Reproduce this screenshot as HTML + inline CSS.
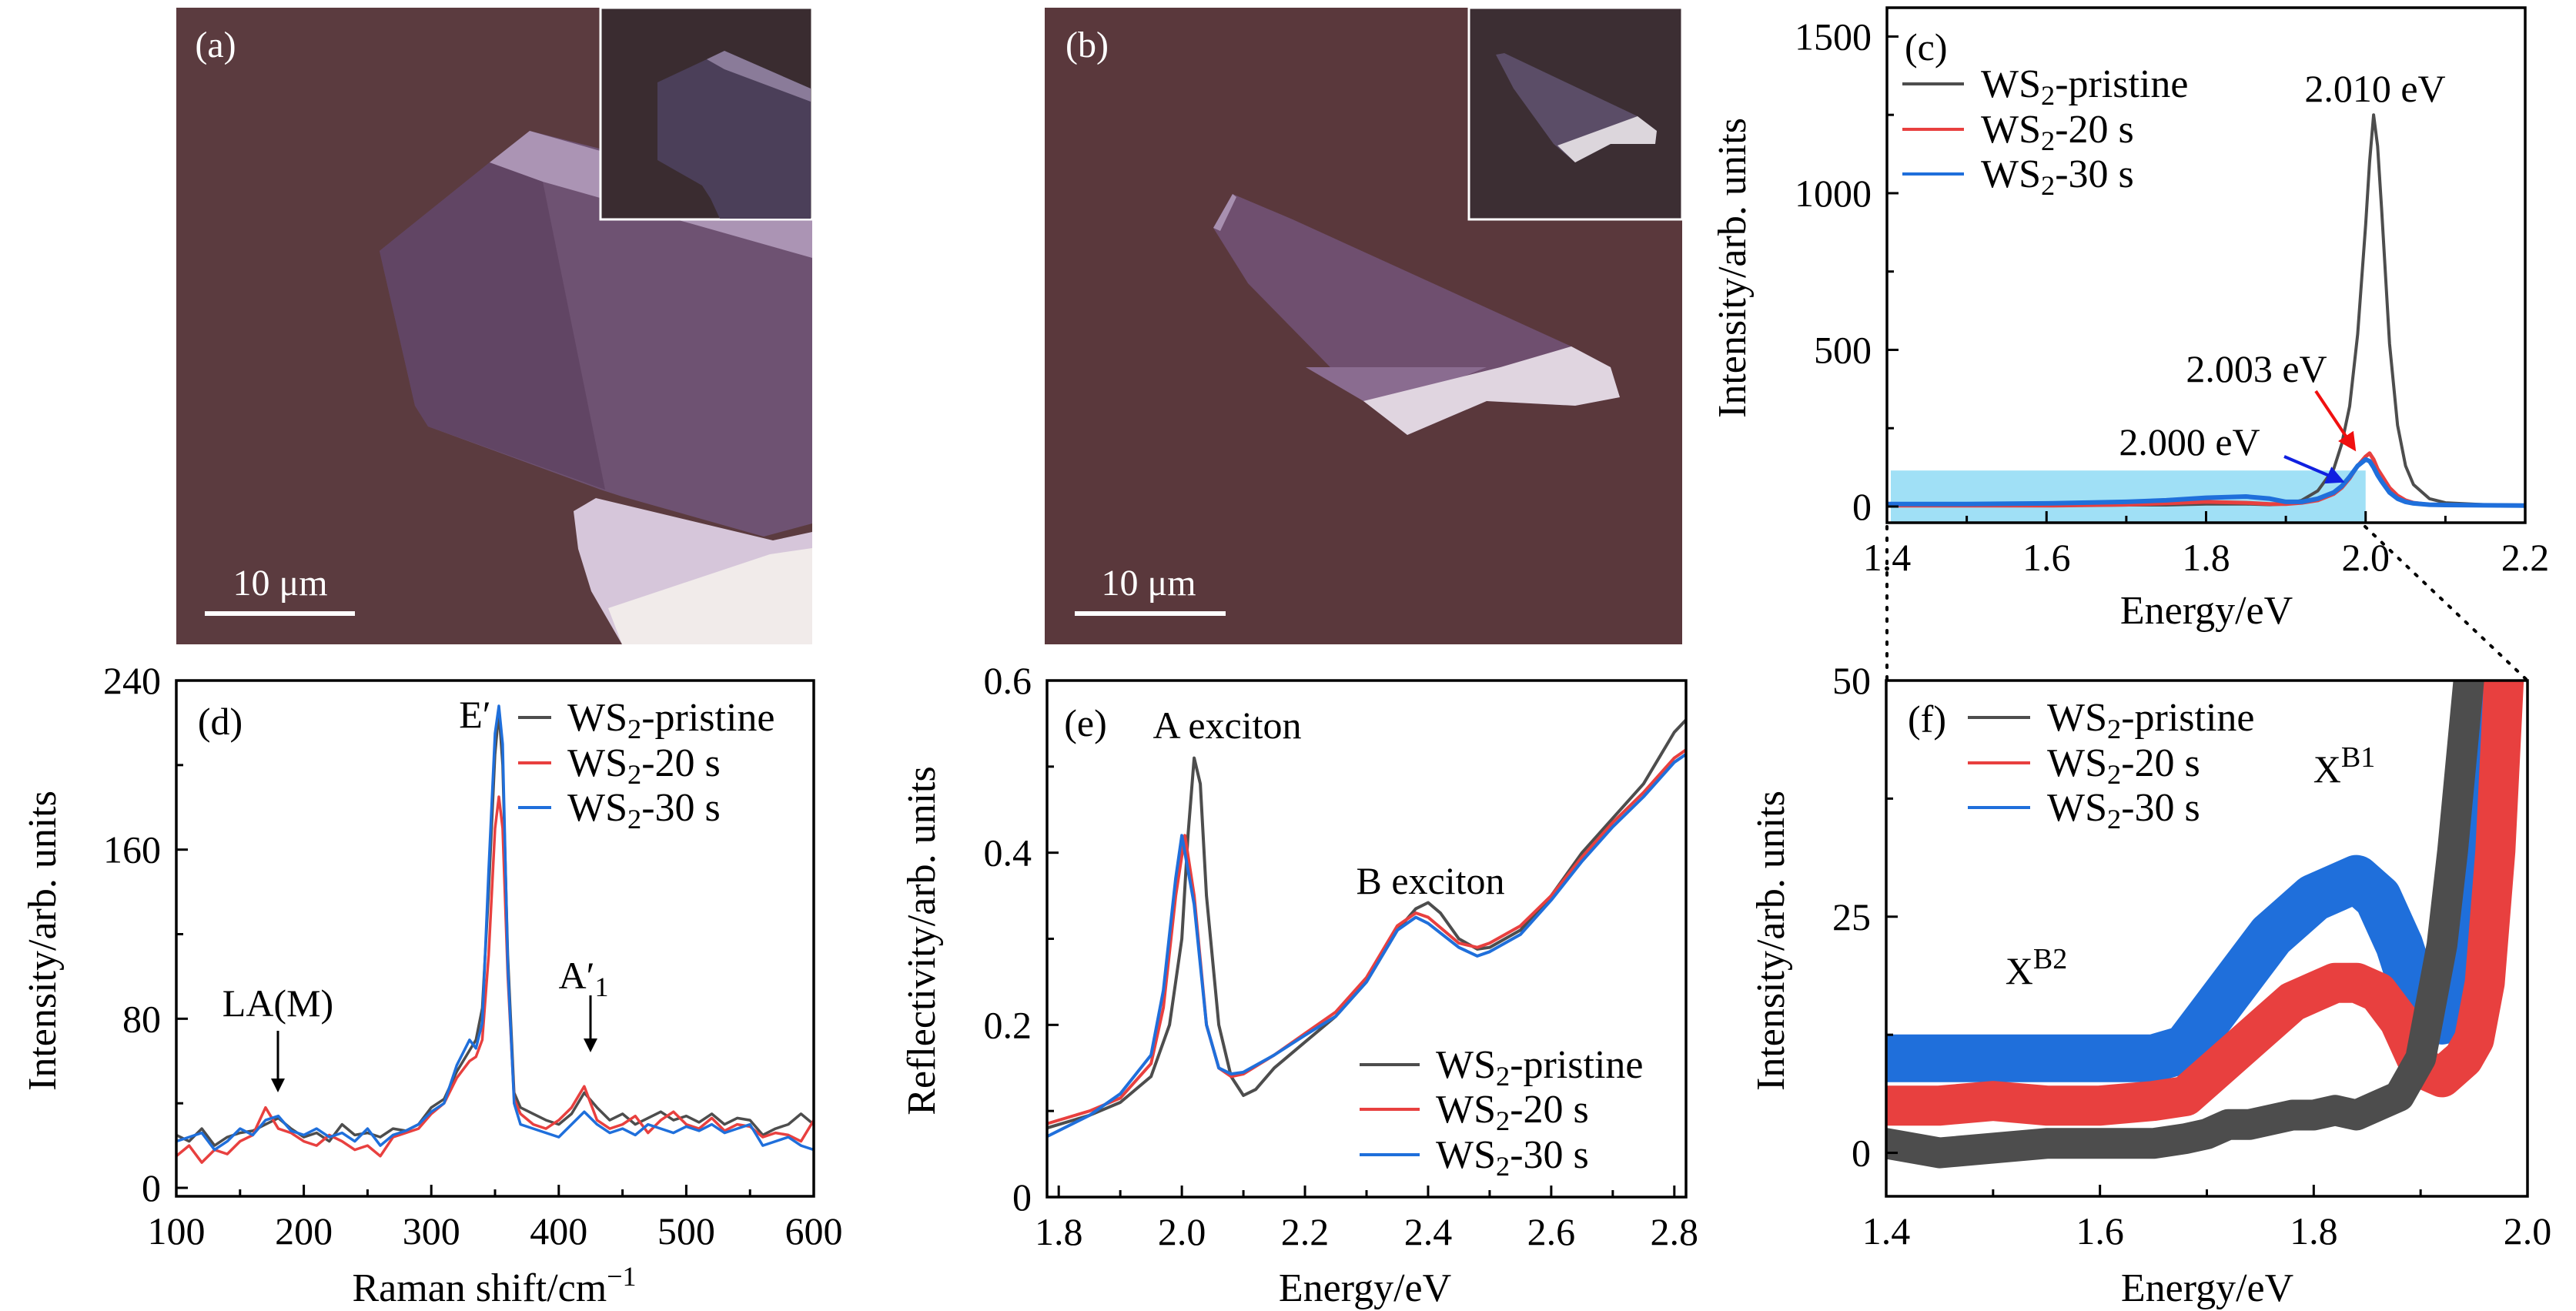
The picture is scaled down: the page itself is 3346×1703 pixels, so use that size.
<!DOCTYPE html>
<html><head><meta charset="utf-8"><style>
html,body{margin:0;padding:0;background:#fff;}
svg{display:block;font-family:"Liberation Serif",serif;}
</style></head><body>
<svg id="fig" xmlns="http://www.w3.org/2000/svg" width="3346" height="1703" viewBox="0 0 3346 1703">
<defs>
<clipPath id="clipC"><rect x="2451" y="10" width="829" height="669"/></clipPath>
<clipPath id="clipD"><rect x="229" y="884" width="828" height="670"/></clipPath>
<clipPath id="clipE"><rect x="1360" y="884" width="830" height="670"/></clipPath>
<clipPath id="clipF"><rect x="2450" y="884" width="833" height="670"/></clipPath>
<marker id="arrK" markerWidth="6" markerHeight="6" refX="5" refY="3" orient="auto" markerUnits="strokeWidth"><path d="M0,0 L6,3 L0,6 Z" fill="#000"/></marker>
<marker id="arrR" markerWidth="6" markerHeight="6" refX="5" refY="3" orient="auto" markerUnits="strokeWidth"><path d="M0,0 L6,3 L0,6 Z" fill="#f01010"/></marker>
<marker id="arrB" markerWidth="6" markerHeight="6" refX="5" refY="3" orient="auto" markerUnits="strokeWidth"><path d="M0,0 L6,3 L0,6 Z" fill="#1020e0"/></marker>
</defs>

<g>
<rect x="229" y="10" width="826" height="827" fill="#5b3b3f"/>
<polygon points="493,326 636,211 688,170 1055,263 1055,680 992,697 808,645 780,636 556,554 539,527" fill="#6e5272"/>
<polygon points="493,326 636,211 705,236 786,636 556,554 539,527" fill="#614564"/>
<polygon points="636,211 688,170 1055,274 1055,335 705,236" fill="#ab94b4"/>
<polygon points="745,664 774,647 1004,702 1055,691 1055,837 808,837 768,768 751,713" fill="#d6c6da"/>
<polygon points="790,790 1000,720 1055,712 1055,837 808,837" fill="#f1ebea"/>
<rect x="780" y="10" width="275" height="275" fill="#3a2c30" stroke="#fff" stroke-width="3"/>
<polygon points="854,107 918,77 941,66 1053,115 1053,284 935,284 923,258 912,241 854,208" fill="#4b3f59"/>
<polygon points="918,77 941,66 1053,115 1053,132 941,90" fill="#8a7b99"/>
<text x="280" y="74" font-size="48" fill="#fff" text-anchor="middle">(a)</text>
<text x="364" y="773" font-size="48" fill="#fff" text-anchor="middle">10 μm</text>
<line x1="266" y1="797" x2="461" y2="797" stroke="#fff" stroke-width="6"/>
</g>

<g>
<rect x="1357" y="10" width="828" height="827" fill="#5a383c"/>
<polygon points="1576,296 1601,252 1679,285 2041,450 2092,477 2104,516 2046,527 1931,521 1828,565 1771,521 1621,368" fill="#6f4f6f"/>
<polygon points="1576,296 1601,252 1606,256 1585,300" fill="#a890b0"/>
<polygon points="1696,477 1931,477 1834,516 1771,521" fill="#8a6c90"/>
<polygon points="1771,521 1949,477 2041,450 2092,477 2104,516 2046,527 1931,521 1828,565" fill="#e0d5e0"/>
<rect x="1908" y="10" width="277" height="275" fill="#3c2e33" stroke="#fff" stroke-width="3"/>
<polygon points="1943,71 1954,69 2127,151 2152,170 2150,187 2092,187 2046,211 2018,187 1966,115" fill="#5b4d67"/>
<polygon points="2023,189 2127,151 2152,170 2150,187 2092,187 2046,211" fill="#dcd6dc"/>
<text x="1412" y="74" font-size="48" fill="#fff" text-anchor="middle">(b)</text>
<text x="1492" y="773" font-size="48" fill="#fff" text-anchor="middle">10 μm</text>
<line x1="1396" y1="797" x2="1592" y2="797" stroke="#fff" stroke-width="6"/>
</g>

<g id="charts"></g>
</svg>
<script>
const cEnergy = [1.40,1.50,1.60,1.70,1.75,1.80,1.85,1.88,1.90,1.92,1.94,1.96,1.97,1.98,1.99,2.00,2.005,2.01,2.015,2.02,2.03,2.04,2.05,2.06,2.08,2.10,2.15,2.20];
const cPristine = [5,4,3,5,5,8,8,6,8,20,50,120,200,320,550,900,1100,1250,1150,950,520,260,130,70,25,12,6,5];
const c20s = [3,3,3,6,10,15,12,8,8,12,20,40,60,90,130,160,170,150,120,100,60,35,20,12,6,5,4,3];
const c30s = [8,8,10,15,20,28,32,25,15,15,25,45,65,95,130,150,145,125,100,80,45,25,15,10,6,5,4,3];
const cXTicks = [1.4,1.6,1.8,2.0,2.2];
const cXTickLabels = ["1.4","1.6","1.8","2.0","2.2"];
const cYTicks = [0,500,1000,1500];
const cYTickLabels = ["0","500","1000","1500"];
const cHighlight = [1.4,2.0,115];

const dShift = [100,110,120,130,140,150,160,170,180,190,200,210,220,230,240,250,260,270,280,290,300,310,320,330,335,340,345,350,353,356,360,365,370,380,390,400,410,420,430,440,450,460,470,480,490,500,510,520,530,540,550,560,570,580,590,600];
const dPristine = [25,22,28,20,24,26,27,30,33,28,24,26,22,30,25,26,24,28,27,30,38,42,55,65,70,85,140,205,225,200,110,45,38,35,32,30,35,45,38,32,35,30,33,36,32,34,31,35,30,33,32,25,28,30,35,30];
const d20s = [15,20,12,18,16,22,25,38,28,26,22,20,25,22,18,20,15,24,26,28,35,40,52,60,62,70,110,170,185,170,100,42,35,30,28,32,38,48,32,28,30,34,26,32,36,30,28,33,27,30,29,24,26,25,22,32];
const d30s = [22,24,26,18,22,28,25,32,34,27,25,28,24,26,22,28,20,25,27,30,36,40,58,70,66,78,150,215,228,210,105,40,30,28,26,24,30,36,30,26,28,25,30,28,26,29,27,30,26,28,30,20,22,24,20,18];
const dXTicks = [100,200,300,400,500,600];
const dXTickLabels = ["100","200","300","400","500","600"];
const dYTicks = [0,80,160,240];
const dYTickLabels = ["0","80","160","240"];

const ePristineX = [1.78,1.85,1.90,1.95,1.98,2.00,2.01,2.02,2.03,2.04,2.06,2.08,2.10,2.12,2.15,2.20,2.25,2.30,2.35,2.38,2.40,2.42,2.45,2.48,2.50,2.55,2.60,2.65,2.70,2.75,2.80,2.82];
const ePristine = [0.08,0.095,0.11,0.14,0.2,0.3,0.42,0.51,0.48,0.35,0.2,0.14,0.118,0.125,0.15,0.18,0.21,0.25,0.31,0.335,0.342,0.33,0.30,0.288,0.29,0.31,0.35,0.40,0.44,0.48,0.54,0.555];
const e20sX = [1.78,1.85,1.90,1.95,1.97,1.99,2.005,2.02,2.04,2.06,2.08,2.10,2.15,2.20,2.25,2.30,2.35,2.38,2.40,2.45,2.48,2.50,2.55,2.60,2.65,2.70,2.75,2.80,2.82];
const e20s = [0.085,0.1,0.115,0.155,0.22,0.35,0.42,0.35,0.2,0.15,0.14,0.143,0.165,0.19,0.215,0.255,0.315,0.33,0.325,0.295,0.29,0.295,0.315,0.35,0.395,0.435,0.47,0.51,0.52];
const e30sX = [1.78,1.85,1.90,1.95,1.97,1.99,2.00,2.02,2.04,2.06,2.08,2.10,2.15,2.20,2.25,2.30,2.35,2.38,2.40,2.45,2.48,2.50,2.55,2.60,2.65,2.70,2.75,2.80,2.82];
const e30s = [0.07,0.095,0.12,0.165,0.24,0.37,0.42,0.34,0.2,0.15,0.143,0.145,0.165,0.188,0.21,0.25,0.31,0.325,0.318,0.29,0.28,0.285,0.305,0.345,0.39,0.43,0.465,0.505,0.515];
const eXTicks = [1.8,2.0,2.2,2.4,2.6,2.8];
const eXTickLabels = ["1.8","2.0","2.2","2.4","2.6","2.8"];
const eYTicks = [0,0.2,0.4,0.6];
const eYTickLabels = ["0","0.2","0.4","0.6"];

const fEnergy = [1.40,1.45,1.50,1.55,1.60,1.65,1.68,1.70,1.72,1.74,1.76,1.78,1.80,1.82,1.84,1.86,1.88,1.90,1.92,1.93,1.94,1.95,1.96,1.97,1.98];
const fPristine = [1,0,0.5,1,1,1,1.5,2,3,3,3.5,4,4,4.5,4,5,6,10,22,32,44,56,90,110,130];
const f20s = [5,5,5.5,5,5,5.5,6,8,10,12,14,16,17,18,18,17,14,9,8,9,10,12,18,32,55];
const f30s = [10,10,10,10,10,10,11,14,17,20,23,25,27,28,29,27,22,15,14,15,18,22,32,45,60];
const fXTicks = [1.4,1.6,1.8,2.0];
const fXTickLabels = ["1.4","1.6","1.8","2.0"];
const fYTicks = [0,25,50];
const fYTickLabels = ["0","25","50"];

const NS = "http://www.w3.org/2000/svg";
const root = document.getElementById('charts');
const GREY = "#4d4d4d", RED = "#e8403f", BLUE = "#1f6fdb";

function mk(tag, attrs, parent) {
  const el = document.createElementNS(NS, tag);
  for (const k in attrs) el.setAttribute(k, attrs[k]);
  (parent || root).appendChild(el);
  return el;
}
function scale(d0, d1, p0, p1) { return v => p0 + (v - d0) / (d1 - d0) * (p1 - p0); }

function axes(g, P) {
  const fr = mk('rect', {x:P.px0, y:P.py1, width:P.px1-P.px0, height:P.py0-P.py1, fill:'none', stroke:'#000', 'stroke-width':3.5}, g);
  
  
  for (let v = P.xMinorStart; v <= P.xd1 + 1e-9; v += P.xMinor) {
    const x = P.sx(v);
    if (x < P.px0 + 1 || x > P.px1 - 1) continue;
    const isMajor = Math.abs(((v - P.xTicks[0]) / P.xMajor) - Math.round((v - P.xTicks[0]) / P.xMajor)) < 1e-6;
    const t = mk('line', {x1:x, x2:x, y1:P.py0, y2:P.py0 - (isMajor ? 15 : 9), stroke:'#000', 'stroke-width':3}, g);
    
    
  }
  for (let v = P.yMinorStart; v <= P.yd1 + 1e-9; v += P.yMinor) {
    const y = P.sy(v);
    if (y > P.py0 - 1 || y < P.py1 + 1) continue;
    const isMajor = Math.abs(((v - P.yTicks[0]) / P.yMajor) - Math.round((v - P.yTicks[0]) / P.yMajor)) < 1e-6;
    const t = mk('line', {x1:P.px0, x2:P.px0 + (isMajor ? 15 : 9), y1:y, y2:y, stroke:'#000', 'stroke-width':3}, g);
    
    
  }
  P.xTicks.forEach((v, i) => {
    const t = mk('text', {x:P.sx(v), y:P.py0 + 62, 'font-size':50, 'text-anchor':'middle'}, g);
    t.textContent = P.xLabels[i];
    
    
  });
  P.yTicks.forEach((v, i) => {
    const t = mk('text', {x:P.px0 - 20, y:P.sy(v) + 17, 'font-size':50, 'text-anchor':'end'}, g);
    t.textContent = P.yLabels[i];
    
    
  });
  const xt = mk('text', {x:P.xTitleX, y:P.xTitleY, 'font-size':52, 'text-anchor':'middle'}, g);
  
  
  return xt;
}
function yTitle(g, P, text, cx, cy) {
  const t = mk('text', {x:cx, y:cy, 'font-size':52, 'text-anchor':'middle', transform:`rotate(-90 ${cx} ${cy})`, 'dominant-baseline':'middle'}, g);
  t.textContent = text;
  
  
}
function series(g, P, xs, ys, color, w, name, clip) {
  const pts = xs.map((x, i) => P.sx(x).toFixed(1) + ',' + P.sy(ys[i]).toFixed(1)).join(' ');
  const pl = mk('polyline', {points:pts, fill:'none', stroke:color, 'stroke-width':w, 'stroke-linejoin':'round', 'stroke-linecap':'round', 'clip-path':'url(#' + clip + ')'}, g);
  
  
}
function wsLabel(g, x, y, suffix, size) {
  const t = mk('text', {x:x, y:y, 'font-size':size}, g);
  const a = mk('tspan', {}, t); a.textContent = 'WS';
  const b = mk('tspan', {dy:10, 'font-size':size * 0.7}, t); b.textContent = '2';
  const c = mk('tspan', {dy:-10}, t); c.textContent = suffix;
  return t;
}
function legend(g, P, lx, tx, ys) {
  const names = ['-pristine','-20 s','-30 s'], cols = [GREY, RED, BLUE], keys = ['pristine','20s','30s'];
  ys.forEach((y, i) => {
    const ln = mk('line', {x1:lx[0], x2:lx[1], y1:y, y2:y, stroke:cols[i], 'stroke-width':4}, g);
    
    
    const t = wsLabel(g, tx, y + 17, names[i], 52);
    
    
  });
}
function txt(g, x, y, s, name, size, anchor) {
  const t = mk('text', {x:x, y:y, 'font-size':size || 50, 'text-anchor':anchor || 'middle'}, g);
  t.textContent = s;
  
  
  return t;
}
function panel(id, xd0, xd1, px0, px1, yd0, yd1, py0, py1, o) {
  const P = Object.assign({id, xd0, xd1, yd0, yd1, px0, px1, py0, py1}, o);
  P.sx = scale(xd0, xd1, px0, px1); P.sy = scale(yd0, yd1, py0, py1);
  return P;
}

(function(){
  const g = mk('g', {});  
  const P = panel('panel-c', 1.4, 2.2, 2451, 3280, -51.6, 1592, 679, 10,
    {xTicks:cXTicks, xLabels:cXTickLabels, yTicks:cYTicks, yLabels:cYTickLabels, xMajor:0.2, xMinor:0.1, xMinorStart:1.4,
     yMajor:500, yMinor:250, yMinorStart:0, xTitleX:2866, xTitleY:810});
  const hl = mk('rect', {x:P.sx(cHighlight[0]) + 5, y:P.sy(cHighlight[2]), width:P.sx(cHighlight[1]) - P.sx(cHighlight[0]) - 5, height:P.py0 - P.sy(cHighlight[2]), fill:'#a0e0f6'}, g);
  
  
  series(g, P, cEnergy, cPristine, GREY, 4, 'series-c-pristine', 'clipC');
  series(g, P, cEnergy, c20s, RED, 5, 'series-c-20s', 'clipC');
  series(g, P, cEnergy, c30s, BLUE, 6, 'series-c-30s', 'clipC');
  axes(g, P).textContent = 'Energy/eV';
  yTitle(g, P, 'Intensity/arb. units', 2255, 348);
  legend(g, P, [2471, 2551], 2573, [109, 168, 226]);
  txt(g, 2474, 78, '(c)', 'panel-c-label', 50, 'start');
  txt(g, 3085, 132, '2.010 eV', 'peak-label-pristine');
  txt(g, 2931, 496, '2.003 eV', 'peak-label-20s');
  txt(g, 2844, 591, '2.000 eV', 'peak-label-30s');
  const a1 = mk('line', {x1:3008, y1:508, x2:3058, y2:583, stroke:'#f01010', 'stroke-width':4, 'marker-end':'url(#arrR)'}, g);
   
  const a2 = mk('line', {x1:2967, y1:593, x2:3042, y2:625, stroke:'#1020e0', 'stroke-width':4, 'marker-end':'url(#arrB)'}, g);
   
  const z1 = mk('line', {x1:2451, y1:684, x2:2451, y2:884, stroke:'#000', 'stroke-width':4, 'stroke-dasharray':'3,12', 'stroke-linecap':'round'}, g);
   
  const z2 = mk('line', {x1:3072, y1:684, x2:3283, y2:884, stroke:'#000', 'stroke-width':4, 'stroke-dasharray':'3,12', 'stroke-linecap':'round'}, g);
   
})();

(function(){
  const g = mk('g', {});  
  const P = panel('panel-d', 100, 600, 229, 1057, -4, 240, 1554, 884,
    {xTicks:dXTicks, xLabels:dXTickLabels, yTicks:dYTicks, yLabels:dYTickLabels, xMajor:100, xMinor:50, xMinorStart:100,
     yMajor:80, yMinor:40, yMinorStart:0, xTitleX:642, xTitleY:1690});
  series(g, P, dShift, dPristine, GREY, 3.5, 'series-d-pristine', 'clipD');
  series(g, P, dShift, d20s, RED, 3.5, 'series-d-20s', 'clipD');
  series(g, P, dShift, d30s, BLUE, 3.5, 'series-d-30s', 'clipD');
  const xt = axes(g, P);
  xt.textContent = 'Raman shift/cm';
  const sup = mk('tspan', {dy:-20, 'font-size':36}, xt); sup.textContent = '−1';
  yTitle(g, P, 'Intensity/arb. units', 60, 1222);
  legend(g, P, [673, 716], 737, [932, 991, 1049]);
  txt(g, 286, 954, '(d)', 'panel-d-label');
  txt(g, 617, 945, 'E′', 'peak-label-e-prime');
  txt(g, 361, 1320, 'LA(M)', 'peak-label-la-m');
  const t = txt(g, 758, 1284, 'A′', 'peak-label-a1-prime');
  const s = mk('tspan', {dy:10, 'font-size':36}, t); s.textContent = '1';
  const a1 = mk('line', {x1:361, y1:1339, x2:361, y2:1416, stroke:'#000', 'stroke-width':3, 'marker-end':'url(#arrK)'}, g);
   
  const a2 = mk('line', {x1:767, y1:1293, x2:767, y2:1364, stroke:'#000', 'stroke-width':3, 'marker-end':'url(#arrK)'}, g);
   
})();

(function(){
  const g = mk('g', {});  
  const P = panel('panel-e', 1.781, 2.819, 1360, 2190, 0, 0.6, 1555, 884,
    {xTicks:eXTicks, xLabels:eXTickLabels, yTicks:eYTicks, yLabels:eYTickLabels, xMajor:0.2, xMinor:0.1, xMinorStart:1.8,
     yMajor:0.2, yMinor:0.1, yMinorStart:0, xTitleX:1773, xTitleY:1690});
  series(g, P, ePristineX, ePristine, GREY, 4, 'series-e-pristine', 'clipE');
  series(g, P, e20sX, e20s, RED, 4, 'series-e-20s', 'clipE');
  series(g, P, e30sX, e30s, BLUE, 4, 'series-e-30s', 'clipE');
  axes(g, P).textContent = 'Energy/eV';
  yTitle(g, P, 'Reflectivity/arb. units', 1202, 1222);
  legend(g, P, [1766, 1844], 1865, [1383, 1441, 1500]);
  txt(g, 1410, 956, '(e)', 'panel-e-label');
  txt(g, 1594, 959, 'A exciton', 'a-exciton-label');
  txt(g, 1858, 1161, 'B exciton', 'b-exciton-label');
})();

(function(){
  const g = mk('g', {});  
  const P = panel('panel-f', 1.4, 2.0, 2450, 3283, -4.6, 50, 1554, 884,
    {xTicks:fXTicks, xLabels:fXTickLabels, yTicks:fYTicks, yLabels:fYTickLabels, xMajor:0.2, xMinor:0.1, xMinorStart:1.4,
     yMajor:25, yMinor:12.5, yMinorStart:0, xTitleX:2867, xTitleY:1690});
  series(g, P, fEnergy, f30s, BLUE, 62, 'series-f-30s', 'clipF');
  series(g, P, fEnergy, f20s, RED, 52, 'series-f-20s', 'clipF');
  series(g, P, fEnergy, fPristine, GREY, 40, 'series-f-pristine', 'clipF');
  axes(g, P).textContent = 'Energy/eV';
  yTitle(g, P, 'Intensity/arb. units', 2305, 1222);
  legend(g, P, [2556, 2637], 2659, [932, 991, 1049]);
  txt(g, 2503, 951, '(f)', 'panel-f-label');
  const x1 = txt(g, 3045, 1016, 'X', 'xb1-label');
  const s1 = mk('tspan', {dy:-20, 'font-size':38}, x1); s1.textContent = 'B1';
  const x2 = txt(g, 2645, 1278, 'X', 'xb2-label');
  const s2 = mk('tspan', {dy:-20, 'font-size':38}, x2); s2.textContent = 'B2';
})();
</script>
</body></html>
